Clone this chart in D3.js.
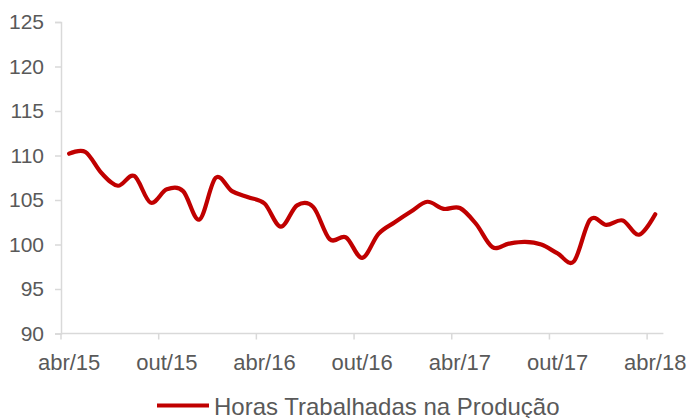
<!DOCTYPE html>
<html>
<head>
<meta charset="utf-8">
<script src="https://cdn.jsdelivr.net/npm/d3@7"></script>
<style>
  body { margin: 0; background: #fff; }
  text { font-family: "Liberation Sans", Arial, sans-serif; fill: #595959; }
</style>
</head>
<body>
<div class="chart"></div>
<script>
var svgWidth = 693;
var svgHeight = 418;

// monthly categories, abr/15 .. abr/18
var months = ["abr/15","mai/15","jun/15","jul/15","ago/15","set/15","out/15","nov/15","dez/15",
  "jan/16","fev/16","mar/16","abr/16","mai/16","jun/16","jul/16","ago/16","set/16","out/16","nov/16","dez/16",
  "jan/17","fev/17","mar/17","abr/17","mai/17","jun/17","jul/17","ago/17","set/17","out/17","nov/17","dez/17",
  "jan/18","fev/18","mar/18","abr/18"];

var horas = [110.2, 110.4, 108.0, 106.6, 107.7, 104.7, 106.2, 106.0, 102.8,
  107.5, 106.0, 105.3, 104.6, 102.0, 104.4, 104.2, 100.6, 100.8, 98.5, 101.2, 102.5,
  103.7, 104.8, 104.0, 104.1, 102.3, 99.7, 100.1, 100.3, 100.0, 99.0, 98.1, 102.8,
  102.2, 102.7, 101.1, 103.4];

var yTicks = [90, 95, 100, 105, 110, 115, 120, 125];
var xTickLabels = ["abr/15", "out/15", "abr/16", "out/16", "abr/17", "out/17", "abr/18"];

var seriesName = "Horas Trabalhadas na Produção";

var svg = d3.select(".chart")
  .append("svg")
  .attr("width", svgWidth)
  .attr("height", svgHeight);

var x = d3.scaleBand().domain(months).range([61, 663.4]).padding(0);
var y = d3.scaleLinear().domain([90, 125]).range([333.5, 22]);

var axisColor = "#d9d9d9";

// y axis
var yAxis = svg.append("g")
  .attr("transform", "translate(61,0)")
  .call(d3.axisLeft(y).tickValues(yTicks).tickSize(6).tickPadding(11));
yAxis.select(".domain").attr("stroke", axisColor).attr("stroke-width", 1.5);
yAxis.selectAll(".tick line").attr("stroke", axisColor).attr("stroke-width", 1.5);
yAxis.selectAll(".tick text")
  .attr("font-size", 21)
  .attr("fill", "#595959")
  .style("font-family", "Liberation Sans, Arial, sans-serif");

// x axis: ticks at the start of each 6th month, labels centred on the month
var xAxisG = svg.append("g").attr("transform", "translate(0,333.5)");
xAxisG.append("line")
  .attr("x1", 61).attr("x2", 663.4)
  .attr("stroke", axisColor).attr("stroke-width", 1.5);

xAxisG.selectAll(".xtick")
  .data(xTickLabels)
  .enter()
  .append("line")
  .attr("x1", function(d) { return x(d); })
  .attr("x2", function(d) { return x(d); })
  .attr("y1", 0).attr("y2", 6)
  .attr("stroke", axisColor).attr("stroke-width", 1.5);

xAxisG.selectAll(".xlabel")
  .data(xTickLabels)
  .enter()
  .append("text")
  .attr("x", function(d) { return x(d) + x.bandwidth() / 2; })
  .attr("y", 36.5)
  .attr("text-anchor", "middle")
  .attr("font-size", 22)
  .text(function(d) { return d; });

// the series
var line = d3.line()
  .x(function(d, i) { return x(months[i]) + x.bandwidth() / 2; })
  .y(function(d) { return y(d); })
  .curve(d3.curveCardinal.tension(0));

svg.append("path")
  .datum(horas)
  .attr("d", line)
  .attr("fill", "none")
  .attr("stroke", "#c00000")
  .attr("stroke-width", 4.2)
  .attr("stroke-linecap", "round")
  .attr("stroke-linejoin", "round");

// legend
var legend = svg.append("g").attr("transform", "translate(157,405.5)");
legend.append("line")
  .attr("x1", 0).attr("x2", 52)
  .attr("stroke", "#c00000")
  .attr("stroke-width", 4);
legend.append("text")
  .attr("x", 57)
  .attr("y", 9)
  .attr("font-size", 24)
  .text(seriesName);
</script>
</body>
</html>
